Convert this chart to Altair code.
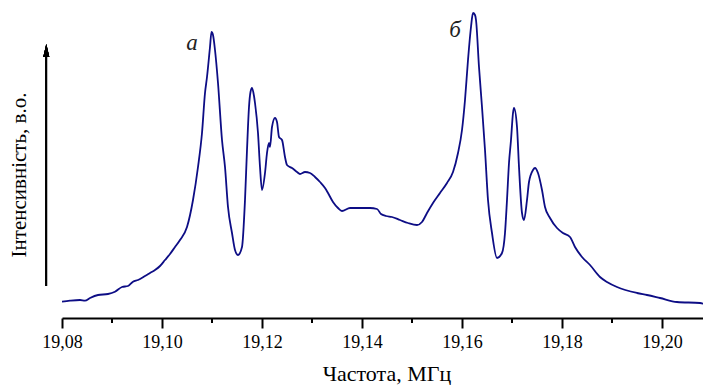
import altair as alt
import pandas as pd

# Spectrum trace (frequency in MHz, intensity in arbitrary units)
freq = [19.0800, 19.0816, 19.0836, 19.0846, 19.0856, 19.0872, 19.0892, 19.0906, 19.0920, 19.0932,
        19.0942, 19.0952, 19.0966, 19.0976, 19.0986, 19.0996, 19.1006, 19.1016, 19.1026, 19.1036,
        19.1050, 19.1062, 19.1072, 19.1080, 19.1086, 19.1090, 19.1096, 19.1099, 19.1102, 19.1106,
        19.1112, 19.1120, 19.1126, 19.1132, 19.1140, 19.1146, 19.1152, 19.1160, 19.1166, 19.1170,
        19.1174, 19.1177, 19.1180, 19.1184, 19.1186, 19.1192, 19.1196, 19.1200, 19.1206, 19.1210,
        19.1214, 19.1216, 19.1220, 19.1226, 19.1230, 19.1234, 19.1240, 19.1246, 19.1250, 19.1260,
        19.1270, 19.1276, 19.1286, 19.1296, 19.1306, 19.1316, 19.1326, 19.1332, 19.1342, 19.1352,
        19.1360, 19.1376, 19.1396, 19.1416, 19.1430, 19.1438, 19.1448, 19.1460, 19.1476, 19.1492,
        19.1510, 19.1520, 19.1530, 19.1542, 19.1556, 19.1570, 19.1582, 19.1592, 19.1600, 19.1606,
        19.1612, 19.1618, 19.1622, 19.1626, 19.1628, 19.1634, 19.1640, 19.1646, 19.1652, 19.1660,
        19.1670, 19.1680, 19.1686, 19.1690, 19.1694, 19.1698, 19.1702, 19.1704, 19.1710, 19.1714,
        19.1720, 19.1724, 19.1730, 19.1734, 19.1742, 19.1746, 19.1752, 19.1760, 19.1766, 19.1776,
        19.1790, 19.1802, 19.1816, 19.1826, 19.1840, 19.1856, 19.1876, 19.1890, 19.1910, 19.1950,
        19.1970, 19.1996, 19.2030, 19.2076, 19.2090, 19.2098]
intensity = [16.3, 17.3, 18, 17.3, 20, 23, 24, 26.3, 31, 32,
             36.3, 38, 42, 45, 48, 52, 58, 64, 71, 78,
             91, 118, 151, 185, 225, 241, 271, 286, 283, 268,
             235, 178, 151, 111, 85, 68, 63, 71, 118, 168,
             211, 226, 230, 222, 215, 185, 151, 128, 145, 165,
             175, 171, 191, 200, 196, 181, 178, 161, 153, 150,
             146, 144, 146, 145, 141, 136, 130, 125, 116, 110,
             107, 110, 110, 110, 109, 104, 102, 101, 98, 95,
             93, 96, 105, 115, 125, 135, 146, 165, 188, 218,
             258, 291, 305, 303, 298, 251, 211, 168, 118, 85,
             60, 65, 85, 118, 155, 178, 205, 210, 191, 151,
             105, 98, 118, 136, 148, 150, 145, 128, 111, 100,
             90, 85, 81, 71, 61, 53, 41, 36, 31, 25,
             23, 20, 16, 15, 13, 11]

major_ticks = [19.08, 19.10, 19.12, 19.14, 19.16, 19.18, 19.20]
minor_ticks = [19.09, 19.11, 19.13, 19.15, 19.17, 19.19]

peak_labels = ["а", "б"]
peak_label_freq = [19.1060, 19.1586]
peak_label_int = [275, 288]

x_title = "Частота, МГц"
y_title = "Інтенсивність, в.о."

FONT = "Liberation Serif"
LINE_COLOR = "#0d0d85"
W, H = 641, 308

df = pd.DataFrame({"f": freq, "i": intensity})
df_minor = pd.DataFrame({"f": minor_ticks})
df_lab = pd.DataFrame({"f": peak_label_freq, "i": peak_label_int, "t": peak_labels})

xscale = alt.Scale(domain=[19.08, 19.2082], nice=False, zero=False)
yscale = alt.Scale(domain=[0, 308], nice=False, zero=False)

line = alt.Chart(df).mark_line(color=LINE_COLOR, strokeWidth=1.8, interpolate="monotone",
                               clip=True).encode(
    x=alt.X("f:Q", scale=xscale, title=None,
            axis=alt.Axis(values=major_ticks,
                          labelExpr="replace(format(datum.value, '.2f'), '.', ',')",
                          grid=False, domainColor="black", domainWidth=2,
                          tickColor="black", tickWidth=2, tickSize=10,
                          labelFont=FONT, labelFontSize=18, labelColor="black",
                          labelPadding=5, labelFlush=False)),
    y=alt.Y("i:Q", scale=yscale, axis=None),
)

minor = alt.Chart(df_minor).mark_rule(color="black", strokeWidth=2).encode(
    x=alt.X("f:Q", scale=xscale),
    y=alt.value(H),
    y2=alt.value(H + 5),
)

labels = alt.Chart(df_lab).mark_text(font=FONT, fontSize=23, fontStyle="italic",
                                     color="#222222", align="center", baseline="middle").encode(
    x=alt.X("f:Q", scale=xscale),
    y=alt.Y("i:Q", scale=yscale),
    text="t:N",
)

shaft = alt.Chart(df_minor).mark_rule(color="black", strokeWidth=1.5).encode(
    x=alt.value(-15.7), y=alt.value(276), y2=alt.value(44),
)
head = alt.Chart(df_minor).mark_point(shape="M0,-1L0.46,1L-0.46,1Z", size=169, filled=True,
                                       color="black", opacity=1).encode(
    x=alt.value(-15.7), y=alt.value(40.5),
)
ytitle = alt.Chart(pd.DataFrame({"t": [y_title]})).mark_text(
    font=FONT, fontSize=21, angle=270, color="black", align="center", baseline="middle").encode(
    x=alt.value(-42), y=alt.value(165), text="t:N",
)
xtitle = alt.Chart(pd.DataFrame({"t": [x_title]})).mark_text(
    font=FONT, fontSize=22, color="black", align="center", baseline="alphabetic").encode(
    x=alt.value(325), y=alt.value(371), text="t:N",
)

chart = alt.layer(line, minor, labels, shaft, head, ytitle, xtitle).properties(
    width=W, height=H,
    autosize=alt.AutoSizeParams(type="none"),
    padding={"left": 54, "top": 2, "right": 0, "bottom": 67},
).configure_view(stroke=None)

chart.save("out.html", embed_options={"renderer": "svg", "actions": False})
